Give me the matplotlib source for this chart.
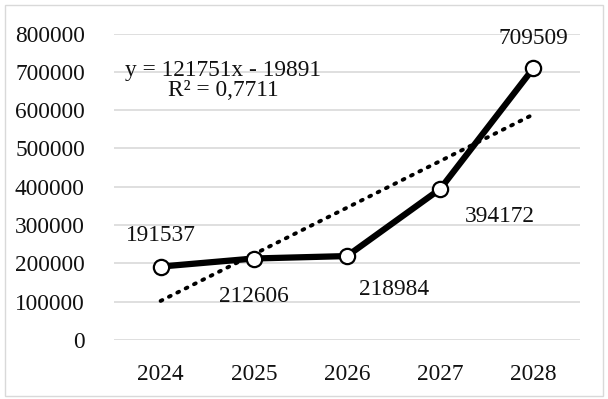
import numpy as np
import matplotlib
matplotlib.use("Agg")
import matplotlib.pyplot as plt
from matplotlib.patches import Rectangle

years = ["2024", "2025", "2026", "2027", "2028"]
values = [191537, 212606, 218984, 394172, 709509]
trend_slope = 121751
trend_intercept = -19891
r_squared = "0,7711"

# label offsets in pixels relative to each point
label_offsets = [(0, 31), (0, -38), (47, -33), (60, -28), (0, 30)]

plt.rcParams["font.family"] = ["Liberation Serif", "DejaVu Serif"]
plt.rcParams["font.size"] = 16.8

fig = plt.figure(figsize=(6.08, 3.99), dpi=100)
ax = fig.add_axes([0.1875, 0.148, 0.7665, 0.768])

x = np.arange(1, len(values) + 1)

ax.set_ylim(0, 800000)
ax.set_xlim(0.5, len(values) + 0.5)
ax.set_yticks(np.arange(0, 800001, 100000))
ax.set_yticklabels([str(v) for v in range(0, 800001, 100000)])
ax.set_xticks(x)
ax.set_xticklabels(years)
ax.yaxis.grid(True, color="#d9d9d9", linewidth=1.2)
ax.set_axisbelow(True)
for s in ax.spines.values():
    s.set_visible(False)
ax.tick_params(axis="both", length=0, colors="#111111")
ax.tick_params(axis="y", pad=21)
ax.tick_params(axis="x", pad=17)

# linear trend
trend = trend_slope * x + trend_intercept
ax.plot(x, trend, color="black", linestyle=(0, (0.5, 1.9)), linewidth=2.8,
        dash_capstyle="round", zorder=2)

ax.plot(x, values, color="black", linewidth=4.5, marker="o", markersize=11,
        markerfacecolor="white", markeredgecolor="black", markeredgewidth=1.6,
        zorder=3)

for xi, v, (dx, dy) in zip(x, values, label_offsets):
    ax.annotate(str(v), (xi, v), xytext=(dx, dy), textcoords="offset pixels",
                ha="center", va="center", color="#111111")

ax.text(0.234, 0.88, f"y = {trend_slope}x - {abs(trend_intercept)}",
        transform=ax.transAxes, ha="center", va="center", color="#111111")
ax.text(0.234, 0.815, f"R² = {r_squared}", transform=ax.transAxes,
        ha="center", va="center", color="#111111")

fig.patches.append(Rectangle((5 / 608, 3 / 399), 598 / 608, 391 / 399,
                             transform=fig.transFigure, fill=False,
                             edgecolor="#d9d9d9", linewidth=1))

fig.savefig("out.png", dpi=100)
